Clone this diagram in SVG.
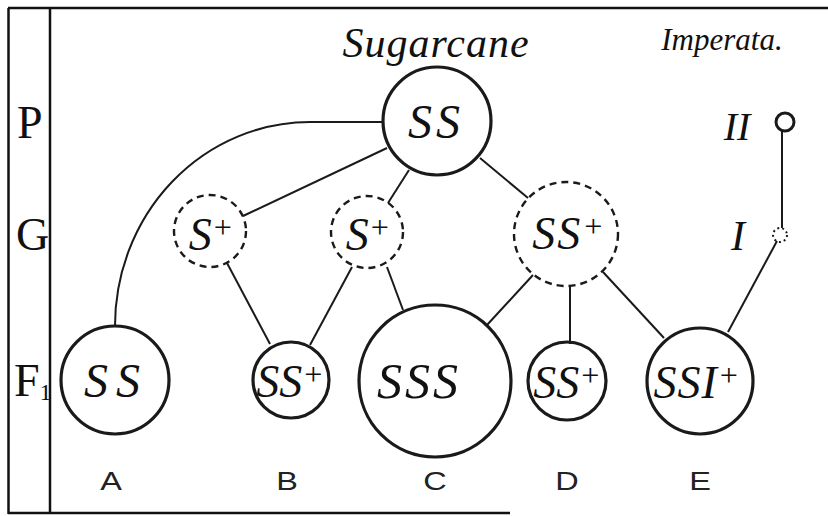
<svg xmlns="http://www.w3.org/2000/svg" width="828" height="516" viewBox="0 0 828 516">
<style>
.frame{stroke:#111;stroke-width:2.5;fill:none}
.node{fill:none;stroke:#1a1a1a;stroke-width:3.2}
.dash{fill:none;stroke:#1a1a1a;stroke-width:2.4;stroke-dasharray:7 5}
.edge{fill:none;stroke:#1a1a1a;stroke-width:2}
.lbl{font-family:"Liberation Serif","DejaVu Serif",serif;font-style:italic;fill:#111;text-anchor:middle}
.sup{font-size:32px}
.row{font-family:"Liberation Serif","DejaVu Serif",serif;fill:#111;font-size:46px}
.col{font-family:"Liberation Sans","DejaVu Sans",sans-serif;fill:#222;font-size:25px;text-anchor:middle}
</style>
<rect width="828" height="516" fill="#fff"/>
<g id="frame">
<line class="frame" x1="8" y1="8" x2="828" y2="8"/>
<line class="frame" x1="8.5" y1="8" x2="8.5" y2="514"/>
<line class="frame" x1="50" y1="8" x2="50" y2="514"/>
<line class="frame" x1="8" y1="513" x2="510" y2="513"/>
<text class="row" x="17" y="138">P</text>
<text class="row" x="16" y="250">G</text>
<text class="row" x="14" y="396">F<tspan font-size="24" dy="4">1</tspan></text>
</g>
<g id="titles">
<text class="lbl" x="436" y="57" font-size="42" letter-spacing="1">Sugarcane</text>
<text class="lbl" x="722" y="50" font-size="31">Imperata.</text>
</g>
<g id="connectors">
<path class="edge" d="M383,122 H310 A195,204 0 0 0 115,326"/>
<line class="edge" x1="387" y1="148" x2="243" y2="216"/>
<line class="edge" x1="409" y1="170" x2="388" y2="203"/>
<line class="edge" x1="480" y1="158" x2="528" y2="198"/>
<line class="edge" x1="227" y1="263" x2="270" y2="344"/>
<line class="edge" x1="352" y1="267" x2="310" y2="345"/>
<line class="edge" x1="387" y1="267" x2="403" y2="310"/>
<line class="edge" x1="533" y1="275" x2="487" y2="325"/>
<line class="edge" x1="570" y1="286" x2="570" y2="344"/>
<line class="edge" x1="603" y1="272" x2="664" y2="338"/>
<line class="edge" x1="782" y1="132" x2="782" y2="228"/>
<line class="edge" x1="777" y1="241" x2="728" y2="332"/>
</g>
<g id="node-P">
<circle class="node" cx="437" cy="121" r="54"/>
<text class="lbl" x="436" y="138" font-size="48" letter-spacing="4">SS</text>
</g>
<g id="node-G1">
<circle class="dash" cx="210" cy="231" r="36"/>
<text class="lbl" x="211" y="250" font-size="46">S<tspan class="sup" dy="-12">+</tspan></text>
</g>
<g id="node-G2">
<circle class="dash" cx="367" cy="232" r="36"/>
<text class="lbl" x="368" y="250" font-size="46">S<tspan class="sup" dy="-12">+</tspan></text>
</g>
<g id="node-G3">
<circle class="dash" cx="566" cy="234" r="52"/>
<text class="lbl" x="568" y="249" font-size="46" letter-spacing="2">SS<tspan class="sup" dy="-12" letter-spacing="0">+</tspan></text>
</g>
<g id="node-A">
<circle class="node" cx="115" cy="380" r="54"/>
<text class="lbl" x="116" y="397" font-size="48" letter-spacing="8">SS</text>
</g>
<g id="node-B">
<circle class="node" cx="291" cy="380" r="38"/>
<text class="lbl" x="290" y="397" font-size="46">SS<tspan class="sup" font-size="28" dy="-12">+</tspan></text>
</g>
<g id="node-C">
<circle class="node" cx="435" cy="381" r="76"/>
<text class="lbl" x="419" y="398" font-size="50" letter-spacing="3">SSS</text>
</g>
<g id="node-D">
<circle class="node" cx="567" cy="381" r="39"/>
<text class="lbl" x="567" y="398" font-size="46">SS<tspan class="sup" font-size="28" dy="-12">+</tspan></text>
</g>
<g id="node-E">
<circle class="node" cx="700" cy="381" r="53"/>
<text class="lbl" x="697" y="398" font-size="46" letter-spacing="1">SSI<tspan class="sup" font-size="30" dy="-12">+</tspan></text>
</g>
<g id="node-II">
<circle cx="785" cy="122" r="9" fill="none" stroke="#1a1a1a" stroke-width="3"/>
<text class="lbl" x="737" y="140" font-size="40">II</text>
</g>
<g id="node-I">
<circle cx="780" cy="235" r="7" fill="none" stroke="#1a1a1a" stroke-width="2" stroke-dasharray="2 3"/>
<text class="lbl" x="738" y="250" font-size="42">I</text>
</g>
<g id="columns">
<text class="col" transform="translate(111,490) scale(1.3,1)">A</text>
<text class="col" transform="translate(287,490) scale(1.3,1)">B</text>
<text class="col" transform="translate(435,490) scale(1.3,1)">C</text>
<text class="col" transform="translate(567,490) scale(1.3,1)">D</text>
<text class="col" transform="translate(700,490) scale(1.3,1)">E</text>
</g>
</svg>
